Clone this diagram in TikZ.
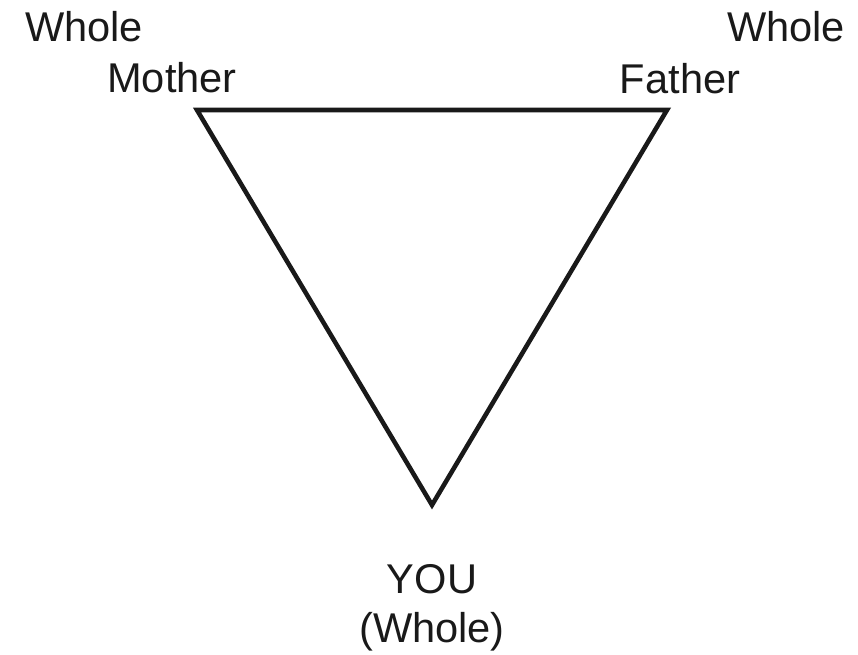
\documentclass[tikz,border=0pt]{standalone}
\usepackage{fontspec}
\setmainfont{Liberation Sans}
\usepackage{tikz}
\usetikzlibrary{positioning}

\begin{document}
\begin{tikzpicture}[
  lbl/.style={
    anchor=base, inner sep=0pt, text=black!90,
    font=\fontsize{35.5}{42}\selectfont
  },
  edge/.style={draw=black!90, line width=3.9pt, line join=miter}
]
  \useasboundingbox (0, 0) rectangle (25.74, 19.62);
  % corners of the triangle
  \coordinate (mother) at ( 5.91, 16.32);
  \coordinate (father) at (20.01, 16.32);
  \coordinate (you)    at (12.96,  4.47);
  \draw[edge] (mother) -- (father) -- (you) -- cycle;
  % labels
  \node[lbl] (wholeL)  at ( 2.52, 18.36) {Whole};
  \node[lbl] (motherL) at ( 5.16, 16.83) {Mother};
  \node[lbl] (wholeR)  at (23.58, 18.36) {Whole};
  \node[lbl] (fatherL) at (20.40, 16.80) {Father};
  \node[lbl] (youL)    at (12.96,  1.83) {YOU};
  \node[lbl] (youW)    at (12.96,  0.36) {(Whole)};
\end{tikzpicture}
\end{document}
